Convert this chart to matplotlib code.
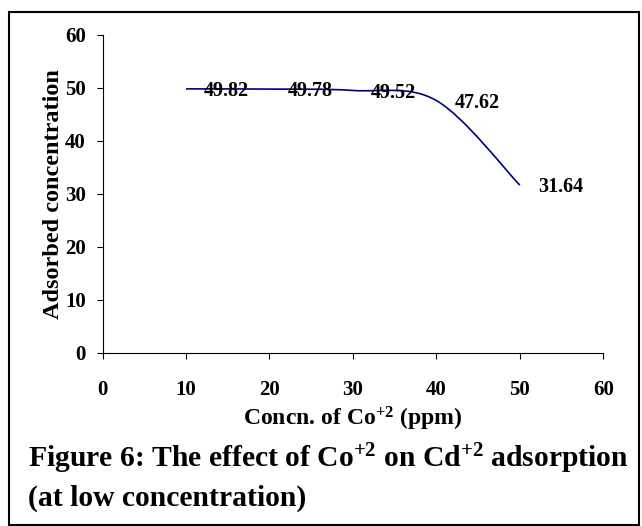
import matplotlib
matplotlib.use('Agg')
import matplotlib.pyplot as plt
from matplotlib.path import Path
from matplotlib.patches import PathPatch, Rectangle

plt.rcParams['font.family'] = ['Liberation Serif', 'DejaVu Serif']
plt.rcParams['font.weight'] = 'bold'
plt.rcParams['mathtext.fontset'] = 'custom'
plt.rcParams['mathtext.rm'] = 'Liberation Serif:bold'
plt.rcParams['mathtext.bf'] = 'Liberation Serif:bold'
plt.rcParams['mathtext.default'] = 'bf'

CONC = [10, 20, 30, 40, 50]
ADSORBED = [49.82, 49.78, 49.52, 47.62, 31.64]
TICKS = [0, 10, 20, 30, 40, 50, 60]

LINE_COLOR = '#000080'


def smooth_path(xs, ys):
    # Excel-like smoothed line: cubic Bezier segments through the points
    pts = list(zip(xs, ys))
    verts = [pts[0]]
    codes = [Path.MOVETO]
    n = len(pts)
    for i in range(n - 1):
        p0 = pts[max(i - 1, 0)]
        p1 = pts[i]
        p2 = pts[i + 1]
        p3 = pts[min(i + 2, n - 1)]
        c1 = (p1[0] + (p2[0] - p0[0]) / 6, p1[1] + (p2[1] - p0[1]) / 6)
        c2 = (p2[0] - (p3[0] - p1[0]) / 6, p2[1] - (p3[1] - p1[1]) / 6)
        verts += [c1, c2, p2]
        codes += [Path.CURVE4] * 3
    return Path(verts, codes)


fig = plt.figure(figsize=(6.42, 5.26), dpi=100)
ax = fig.add_axes([0.1597, 0.3295, 0.78, 0.604])

ax.add_patch(PathPatch(smooth_path(CONC, ADSORBED), facecolor='none',
                       edgecolor=LINE_COLOR, linewidth=1.2))

for x, y in zip(CONC, ADSORBED):
    ax.annotate(f'{y:.2f}', (x, y), xytext=(13, -1.5), textcoords='offset points',
                ha='left', va='center', fontsize=14.5, fontweight='bold')

ax.set_xlim(0, 60)
ax.set_ylim(0, 60)
ax.set_xticks(TICKS)
ax.set_yticks(TICKS)
ax.tick_params(direction='out', length=4, width=0.8, labelsize=15)
ax.tick_params(axis='x', pad=16)
ax.tick_params(axis='y', pad=8)
for side in ['top', 'right']:
    ax.spines[side].set_visible(False)
for side in ['left', 'bottom']:
    ax.spines[side].set_linewidth(0.8)

ax.set_xlabel('Concn. of Co$^{+2}$ (ppm)', fontsize=17, fontweight='bold', labelpad=3)
ax.set_ylabel('Adsorbed concentration', fontsize=17.5, fontweight='bold', labelpad=1)

fig.text(0.043, 0.094, 'Figure 6: The effect of Co$^{+2}$ on Cd$^{+2}$ adsorption\n(at low concentration)',
         fontsize=21.3, fontweight='bold', ha='left', va='center', linespacing=1.4)

fig.patches.append(Rectangle((9 / 642, 1 / 526), 630 / 642, 513 / 526, transform=fig.transFigure,
                             facecolor='none', edgecolor='black', linewidth=1.5))

fig.savefig('out.png', dpi=100)
